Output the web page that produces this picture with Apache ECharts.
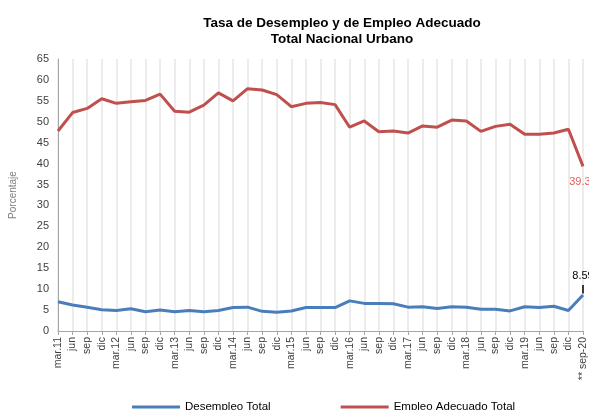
<!DOCTYPE html>
<html><head><meta charset="utf-8">
<script src="https://cdn.jsdelivr.net/npm/echarts@6/dist/echarts.min.js"></script>
<style>html,body{margin:0;padding:0;background:#fff}#c{width:589px;height:410px}</style>
</head><body><div id="c"></div>
<script>
const categories = ['mar.11','jun','sep','dic','mar.12','jun','sep','dic','mar.13','jun','sep','dic','mar.14','jun','sep','dic','mar.15','jun','sep','dic','mar.16','jun','sep','dic','mar.17','jun','sep','dic','mar.18','jun','sep','dic','mar.19','jun','sep','dic','** sep-20'];
const desempleo = [7.0,6.2,5.7,5.1,4.9,5.3,4.6,5.0,4.6,4.9,4.6,4.9,5.6,5.7,4.7,4.5,4.8,5.6,5.6,5.6,7.2,6.6,6.6,6.5,5.7,5.8,5.4,5.8,5.7,5.2,5.2,4.8,5.8,5.6,5.9,4.9,8.59];
const empleo = [47.8,52.2,53.2,55.5,54.4,54.8,55.1,56.6,52.5,52.3,54.0,56.9,55.0,57.9,57.6,56.5,53.6,54.4,54.6,54.1,48.7,50.2,47.6,47.8,47.3,49.0,48.7,50.4,50.2,47.7,48.9,49.4,47.0,47.0,47.3,48.2,39.33];
const yTicks = {min:0, max:65, interval:5};
const FONT = '"Liberation Sans","Arial",sans-serif';
const last = categories.length - 1;
const chart = echarts.init(document.getElementById('c'), null, {renderer:'canvas'});
function withEndLabel(arr, pos, dist, color){
  return arr.map((v,i)=> i===last ? {value:v, label:{show:true, position:pos, distance:dist, color:color, formatter:'{c}'}} : v);
}
chart.setOption({
  animation:false,
  title:{text:'Tasa de Desempleo y de Empleo Adecuado\nTotal Nacional Urbano', left:337, textAlign:'center', top:10,
    textStyle:{fontFamily:FONT, fontSize:13.5, fontWeight:'bold', color:'#000', lineHeight:16}},
  legend:{top:396, left:127, itemWidth:48, itemHeight:3, itemGap:70, icon:'rect',
    textStyle:{fontFamily:FONT, fontSize:11.5, color:'#000'},
    data:['Desempleo Total','Empleo Adecuado Total']},
  grid:{left:50, right:6, top:59, bottom:79, containLabel:false},
  xAxis:{type:'category', data:categories, boundaryGap:false,
    axisLine:{lineStyle:{color:'#a6a6a6', width:1}},
    axisTick:{show:true, alignWithLabel:true, length:4, lineStyle:{color:'#a6a6a6'}},
    axisLabel:{rotate:90, interval:0, fontFamily:FONT, fontSize:10.5, color:'#404040', margin:6},
    splitLine:{show:true, lineStyle:{color:'#ececec', width:2}}},
  yAxis:{type:'value', min:yTicks.min, max:yTicks.max, interval:yTicks.interval,
    name:'Porcentaje', nameLocation:'middle', nameGap:40, nameRotate:90,
    nameTextStyle:{fontFamily:FONT, fontSize:10, color:'#808080'},
    axisLine:{show:true, lineStyle:{color:'#a6a6a6'}},
    axisTick:{show:false},
    axisLabel:{fontFamily:FONT, fontSize:11, color:'#404040', margin:9},
    splitLine:{show:false}},
  series:[
    {name:'Desempleo Total', type:'line', data:withEndLabel(desempleo,'top',14,'#000'),
      symbol:'circle', symbolSize:0.1, showSymbol:true, lineStyle:{color:'#4a7ebb', width:3}, itemStyle:{color:'#4a7ebb'},
      label:{show:false, fontFamily:FONT, fontSize:11},
      markLine:{silent:true, symbol:'none', label:{show:false}, lineStyle:{color:'#000', width:1.5, type:'solid'},
        data:[[{coord:[last, desempleo[last]+0.4]},{coord:[last, desempleo[last]+2.4]}]]}},
    {name:'Empleo Adecuado Total', type:'line', data:withEndLabel(empleo,'bottom',10,'#e06060'),
      symbol:'circle', symbolSize:0.1, showSymbol:true, lineStyle:{color:'#c0504d', width:3}, itemStyle:{color:'#c0504d'},
      label:{show:false, fontFamily:FONT, fontSize:11}}
  ]
});
</script></body></html>
